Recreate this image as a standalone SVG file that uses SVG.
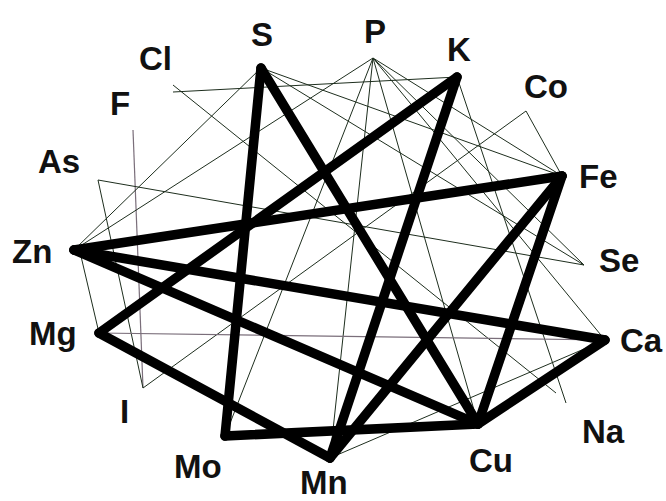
<svg xmlns="http://www.w3.org/2000/svg" width="666" height="501" viewBox="0 0 666 501">
<style>
.lbl{font-family:"Liberation Sans",Arial,sans-serif;font-weight:bold;font-size:33px;fill:#111;}
.thin{stroke:#1e2e1e;stroke-width:1;fill:none;}
.pale{stroke:#7a6e7a;stroke-width:1.2;fill:none;}
.thick{stroke:#000;stroke-width:9.5;stroke-linecap:round;fill:none;}
</style>
<rect width="666" height="501" fill="#fff"/>
<g id="connectors">
<g id="thin-links">
<line class="thin" x1="173" y1="92" x2="457" y2="77"/>
<line class="thin" x1="173" y1="85" x2="556" y2="393"/>
<line class="pale" x1="133" y1="130" x2="143" y2="388"/>
<line class="thin" x1="98" y1="180" x2="584" y2="265"/>
<line class="thin" x1="98" y1="180" x2="143" y2="388"/>
<line class="thin" x1="74" y1="250" x2="261" y2="68"/>
<line class="thin" x1="74" y1="250" x2="373" y2="58"/>
<line class="thin" x1="80" y1="252" x2="99" y2="333"/>
<line class="thin" x1="526" y1="111" x2="143" y2="388"/>
<line class="thin" x1="526" y1="111" x2="562" y2="176"/>
<line class="thin" x1="373" y1="58" x2="562" y2="176"/>
<line class="thin" x1="373" y1="58" x2="225" y2="436"/>
<line class="thin" x1="373" y1="58" x2="330" y2="458"/>
<line class="thin" x1="373" y1="58" x2="478" y2="424"/>
<line class="thin" x1="373" y1="58" x2="584" y2="265"/>
<line class="thin" x1="373" y1="58" x2="605" y2="340"/>
<line class="thin" x1="261" y1="68" x2="562" y2="176"/>
<line class="thin" x1="261" y1="68" x2="584" y2="265"/>
<line class="thin" x1="457" y1="77" x2="566" y2="403"/>
<line class="pale" x1="99" y1="333" x2="605" y2="340"/>
<line class="thin" x1="330" y1="458" x2="605" y2="340"/>
</g>
<g id="thick-links">
<line class="thick" x1="261" y1="68" x2="225" y2="436"/>
<line class="thick" x1="261" y1="68" x2="478" y2="424"/>
<line class="thick" x1="457" y1="77" x2="99" y2="333"/>
<line class="thick" x1="457" y1="77" x2="330" y2="458"/>
<line class="thick" x1="562" y1="176" x2="74" y2="250"/>
<line class="thick" x1="562" y1="176" x2="330" y2="458"/>
<line class="thick" x1="562" y1="176" x2="478" y2="424"/>
<line class="thick" x1="74" y1="250" x2="605" y2="340"/>
<line class="thick" x1="74" y1="250" x2="478" y2="424"/>
<line class="thick" x1="99" y1="333" x2="330" y2="458"/>
<line class="thick" x1="225" y1="436" x2="478" y2="424"/>
<line class="thick" x1="478" y1="424" x2="605" y2="340"/>
</g>
</g>
<g id="node-S"><text class="lbl" x="262" y="46" text-anchor="middle">S</text></g>
<g id="node-P"><text class="lbl" x="375" y="43" text-anchor="middle">P</text></g>
<g id="node-K"><text class="lbl" x="459" y="61" text-anchor="middle">K</text></g>
<g id="node-Co"><text class="lbl" x="524" y="98">Co</text></g>
<g id="node-Fe"><text class="lbl" x="579" y="188">Fe</text></g>
<g id="node-Se"><text class="lbl" x="599" y="272">Se</text></g>
<g id="node-Ca"><text class="lbl" x="620" y="352">Ca</text></g>
<g id="node-Na"><text class="lbl" x="582" y="443">Na</text></g>
<g id="node-Cu"><text class="lbl" x="469" y="472">Cu</text></g>
<g id="node-Mn"><text class="lbl" x="300" y="494">Mn</text></g>
<g id="node-Mo"><text class="lbl" x="174" y="478">Mo</text></g>
<g id="node-I"><text class="lbl" x="120" y="423">I</text></g>
<g id="node-Mg"><text class="lbl" x="29" y="345">Mg</text></g>
<g id="node-Zn"><text class="lbl" x="12" y="263">Zn</text></g>
<g id="node-As"><text class="lbl" x="38" y="173">As</text></g>
<g id="node-F"><text class="lbl" x="110" y="115">F</text></g>
<g id="node-Cl"><text class="lbl" x="139" y="70">Cl</text></g>
</svg>
